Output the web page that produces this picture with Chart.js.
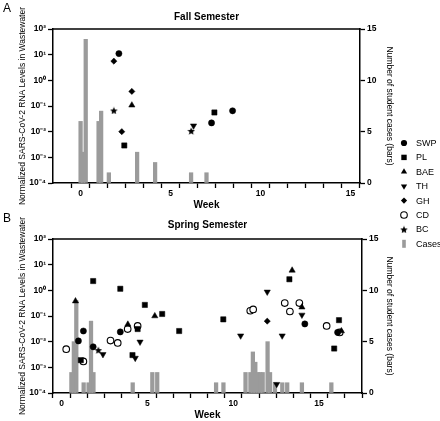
<!DOCTYPE html>
<html><head><meta charset="utf-8">
<script src="https://cdn.jsdelivr.net/npm/chart.js@4/dist/chart.umd.min.js"></script>
<style>
html,body{margin:0;padding:0;background:#fff;}
body{width:440px;height:421px;position:relative;overflow:hidden;font-family:"Liberation Sans",Arial,sans-serif;color:#000;}
#wa{position:absolute;left:0;top:0;width:440px;height:212px;}
#wb{position:absolute;left:0;top:212px;width:440px;height:209px;}
.plabel{position:absolute;left:3px;font-size:12px;line-height:12px;}
.leg{position:absolute;left:416px;font-size:9px;line-height:10px;white-space:nowrap;}
#legc{position:absolute;left:396px;top:136px;}
</style></head>
<body>
<div id="wa"><canvas id="ca" width="440" height="212"></canvas></div>
<div id="wb"><canvas id="cb" width="440" height="209"></canvas></div>
<div class="plabel" style="top:2px">A</div>
<div class="plabel" style="top:212px">B</div>
<canvas id="legc" width="16" height="116"></canvas>
<script>
// ---------- DATA ----------
const seriesNames = ['SWP','PL','BAE','TH','GH','CD','BC'];
const casesLabel = 'Cases';
const yTickValues = [1e-4, 1e-3, 1e-2, 1e-1, 1, 10, 100];
const yTickLabels = ['10\u207B\u2074','10\u207B\u00B3','10\u207B\u00B2','10\u207B\u00B9','10\u2070','10\u00B9','10\u00B2'];
const caseTicks = [0, 5, 10, 15];

// Fall semester (weeks, normalized levels)
const fallSWPWeek = [2.13, 7.28, 8.45];
const fallSWPLevel = [11, 0.022, 0.065];
const fallPLWeek = [2.43, 7.44];
const fallPLLevel = [0.0029, 0.056];
const fallBAEWeek = [2.85];
const fallBAELevel = [0.107];
const fallTHWeek = [6.28];
const fallTHLevel = [0.017];
const fallGHWeek = [1.85, 2.85, 2.29];
const fallGHLevel = [5.6, 0.37, 0.010];
const fallCDWeek = [];
const fallCDLevel = [];
const fallBCWeek = [1.85, 6.15];
const fallBCLevel = [0.067, 0.0107];
const fallCaseDay = [0, 1, 2, 7, 8, 11, 22, 29, 43, 49];
const fallCaseCount = [6, 3, 14, 6, 7, 1, 3, 2, 1, 1];

// Spring semester
const springSWPWeek = [0.98, 1.27, 1.84, 3.42, 14.17, 16.08];
const springSWPLevel = [0.0107, 0.026, 0.0063, 0.024, 0.049, 0.023];
const springPLWeek = [1.12, 1.84, 3.42, 4.13, 4.43, 4.85, 5.86, 6.85, 9.42, 13.27, 15.88, 16.16];
const springPLLevel = [0.0019, 2.3, 1.15, 0.0030, 0.031, 0.27, 0.12, 0.026, 0.074, 2.7, 0.0054, 0.069];
const springBAEWeek = [0.81, 3.86, 5.43, 13.43, 14.0, 16.3];
const springBAELevel = [0.38, 0.047, 0.10, 6.0, 0.22, 0.026];
const springTHWeek = [2.41, 4.29, 4.57, 10.43, 11.98, 12.53, 12.85, 14.0];
const springTHLevel = [0.0032, 0.0023, 0.0098, 0.017, 0.87, 0.00022, 0.017, 0.11];
const springGHWeek = [11.98];
const springGHLevel = [0.063];
const springCDWeek = [0.27, 1.27, 2.85, 3.27, 3.85, 4.43, 10.99, 11.16, 13.0, 13.3, 13.85, 15.44, 16.2];
const springCDLevel = [0.0051, 0.0017, 0.011, 0.0089, 0.031, 0.041, 0.16, 0.18, 0.32, 0.15, 0.32, 0.041, 0.023];
const springBCWeek = [2.14];
const springBCLevel = [0.0047];
const springCaseDay = [4, 5, 6, 9, 11, 12, 13, 29, 37, 39, 63, 66, 75, 77, 78, 79, 80, 81, 82, 84, 85, 87, 90, 92, 98, 110];
const springCaseCount = [2, 5, 9, 1, 1, 7, 2, 1, 2, 2, 1, 1, 2, 2, 4, 3, 2, 2, 2, 5, 2, 1, 1, 1, 1, 1];

// ---------- STYLE ----------
const FAM = "'Liberation Sans', Arial, sans-serif";
const BAR_COLOR = '#9b9b9b';

function makeStar(size){
  const c = document.createElement('canvas'); c.width = size; c.height = size;
  const g = c.getContext('2d'); g.fillStyle = '#000'; g.beginPath();
  const cx = size/2, cy = size/2 + 0.5, R = size/2, r = R*0.45;
  for (let i = 0; i < 10; i++) {
    const a = -Math.PI/2 + i*Math.PI/5, rr = i % 2 ? r : R;
    g.lineTo(cx + rr*Math.cos(a), cy + rr*Math.sin(a));
  }
  g.closePath(); g.fill(); return c;
}
const starImg = makeStar(8);

const markerStyle = {
  SWP: {pointStyle:'circle', pointRadius:3.1, pointRotation:0, pointBackgroundColor:'#000', pointBorderColor:'#000', pointBorderWidth:0.5},
  PL:  {pointStyle:'rect', pointRadius:3.7, pointRotation:0, pointBackgroundColor:'#000', pointBorderColor:'#000', pointBorderWidth:0.5},
  BAE: {pointStyle:'triangle', pointRadius:3.6, pointRotation:0, pointBackgroundColor:'#000', pointBorderColor:'#000', pointBorderWidth:0.5},
  TH:  {pointStyle:'triangle', pointRadius:3.6, pointRotation:180, pointBackgroundColor:'#000', pointBorderColor:'#000', pointBorderWidth:0.5},
  GH:  {pointStyle:'rectRot', pointRadius:3.1, pointRotation:0, pointBackgroundColor:'#000', pointBorderColor:'#000', pointBorderWidth:0.5},
  CD:  {pointStyle:'circle', pointRadius:3.3, pointRotation:0, pointBackgroundColor:'#fff', pointBorderColor:'#000', pointBorderWidth:1.1},
  BC:  {pointStyle:starImg, pointRadius:4, pointRotation:0, pointBackgroundColor:'#000', pointBorderColor:'#000', pointBorderWidth:0}
};

function pts(xs, ys){ return xs.map((x, i) => ({x: x, y: ys[i]})); }

function buildDatasets(weeks, levels, caseDays, caseCounts){
  const ds = [{
    type:'bar', label:casesLabel, xAxisID:'x', yAxisID:'y2', order:10,
    data: pts(caseDays.map(d => d/7), caseCounts),
    backgroundColor: BAR_COLOR, borderWidth:0, barThickness:3.6, grouped:false
  }];
  seriesNames.forEach((n, i) => {
    ds.push(Object.assign({
      type:'scatter', label:n, xAxisID:'x', yAxisID:'y', order:1, showLine:false,
      data: pts(weeks[i], levels[i])
    }, markerStyle[n]));
  });
  return ds;
}

const framePlugin = {
  id:'frame',
  afterDraw(chart){
    const a = chart.chartArea, c = chart.ctx;
    c.save(); c.strokeStyle = '#000'; c.lineWidth = 1.5;
    c.beginPath(); c.moveTo(a.left - 0.75, a.top); c.lineTo(a.right + 0.75, a.top); c.stroke();
    c.restore();
  }
};

function makeOptions(cfg){
  const tickFont = {family:FAM, size:8.5, weight:'bold'};
  const axisGrid = {display:true, drawOnChartArea:false, drawTicks:true, tickLength:5, tickWidth:1.3, tickColor:'#000', color:'#000'};
  const axisBorder = {display:true, color:'#000', width:1.5};
  return {
    responsive:false, animation:false, events:[],
    layout:{padding:{left:13.6, right:cfg.padRight, top:0, bottom:0}},
    plugins:{
      legend:{display:false}, tooltip:{enabled:false},
      title:{display:true, text:cfg.title, color:'#000', fullSize:false,
             font:{family:FAM, size:10, weight:'bold', lineHeight:1.2},
             padding:{top:cfg.titleTop, bottom:cfg.titleBottom}}
    },
    scales:{
      x:{type:'linear', position:'bottom', min:cfg.xMin, max:cfg.xMax,
         afterBuildTicks: s => { s.ticks = cfg.xTicks.map(v => ({value:v})); },
         ticks:{autoSkip:false, maxRotation:0, padding:1, color:'#000', font:tickFont,
                callback: v => (v % 5 === 0 ? String(v) : '')},
         grid:axisGrid, border:axisBorder,
         title:{display:true, text:'Week', color:'#000', font:{family:FAM, size:10, weight:'bold', lineHeight:1.2}, padding:{top:0, bottom:cfg.weekBottom}},
         afterFit: s => { s.height = cfg.xHeight; }
      },
      y:{type:'logarithmic', position:'left', min:1e-4, max:1e2,
         afterBuildTicks: s => { s.ticks = yTickValues.map(v => ({value:v})); },
         ticks:{autoSkip:false, padding:2, color:'#000', font:tickFont,
                callback: (v, i) => yTickLabels[i]},
         grid:axisGrid, border:axisBorder,
         title:{display:true, text:'Normalized SARS-CoV-2 RNA Levels in Wastewater', color:'#000',
                font:{family:FAM, size:8.5, lineHeight:1.2}, padding:{top:4, bottom:4}},
         afterFit: s => { s.width = 39.4; }
      },
      y2:{type:'linear', position:'right', min:0, max:15,
         afterBuildTicks: s => { s.ticks = caseTicks.map(v => ({value:v})); },
         ticks:{autoSkip:false, padding:2, color:'#000', font:tickFont, callback: v => String(v)},
         grid:axisGrid, border:axisBorder,
         title:{display:true, text:'Number of student cases (bars)', color:'#000',
                font:{family:FAM, size:8.5, lineHeight:1.2}, padding:{top:4, bottom:4}},
         afterFit: s => { s.width = cfg.rightWidth; }
      }
    }
  };
}

const range = (a, b) => { const r = []; for (let i = a; i <= b; i++) r.push(i); return r; };

new Chart(document.getElementById('ca'), {
  type:'scatter',
  data:{datasets: buildDatasets(
    [fallSWPWeek, fallPLWeek, fallBAEWeek, fallTHWeek, fallGHWeek, fallCDWeek, fallBCWeek],
    [fallSWPLevel, fallPLLevel, fallBAELevel, fallTHLevel, fallGHLevel, fallCDLevel, fallBCLevel],
    fallCaseDay, fallCaseCount)},
  options: makeOptions({title:'Fall Semester', xMin:-1, xMax:15, xTicks:range(0,15),
    padRight:41.6, rightWidth:38.4, titleTop:11, titleBottom:6, xHeight:29, weekBottom:1}),
  plugins:[framePlugin]
});

new Chart(document.getElementById('cb'), {
  type:'scatter',
  data:{datasets: buildDatasets(
    [springSWPWeek, springPLWeek, springBAEWeek, springTHWeek, springGHWeek, springCDWeek, springBCWeek],
    [springSWPLevel, springPLLevel, springBAELevel, springTHLevel, springGHLevel, springCDLevel, springBCLevel],
    springCaseDay, springCaseCount)},
  options: makeOptions({title:'Spring Semester', xMin:0, xMax:17, xTicks:range(0,17),
    padRight:41.6, rightWidth:36.4, titleTop:7.7, titleBottom:7.3, xHeight:28, weekBottom:0}),
  plugins:[framePlugin]
});

// ---------- LEGEND ----------
(function(){
  const names = seriesNames.concat([casesLabel]);
  const lc = document.getElementById('legc').getContext('2d');
  const cx = 8;
  names.forEach((n, i) => {
    const cy = 7 + i*14.4;
    const d = document.createElement('div');
    d.className = 'leg'; d.textContent = n; d.style.top = (136 + cy - 5) + 'px';
    document.body.appendChild(d);
    lc.save(); lc.fillStyle = '#000'; lc.strokeStyle = '#000'; lc.lineWidth = 1.1;
    lc.beginPath();
    if (n === 'SWP') { lc.arc(cx, cy, 3.1, 0, 2*Math.PI); lc.fill(); }
    else if (n === 'PL') { lc.fillRect(cx-2.7, cy-2.7, 5.4, 5.4); }
    else if (n === 'BAE') { const r=3.6; lc.moveTo(cx, cy-r); lc.lineTo(cx+r*0.866, cy+r/2); lc.lineTo(cx-r*0.866, cy+r/2); lc.closePath(); lc.fill(); }
    else if (n === 'TH') { const r=3.6; lc.moveTo(cx, cy+r); lc.lineTo(cx+r*0.866, cy-r/2); lc.lineTo(cx-r*0.866, cy-r/2); lc.closePath(); lc.fill(); }
    else if (n === 'GH') { const r=3.1; lc.moveTo(cx-r, cy); lc.lineTo(cx, cy-r); lc.lineTo(cx+r, cy); lc.lineTo(cx, cy+r); lc.closePath(); lc.fill(); }
    else if (n === 'CD') { lc.fillStyle='#fff'; lc.arc(cx, cy, 3.3, 0, 2*Math.PI); lc.fill(); lc.stroke(); }
    else if (n === 'BC') { lc.drawImage(starImg, cx-4, cy-4); }
    else { lc.fillStyle = BAR_COLOR; lc.fillRect(cx-1.8, cy-4, 3.6, 8); }
    lc.restore();
  });
})();
</script>
</body></html>
